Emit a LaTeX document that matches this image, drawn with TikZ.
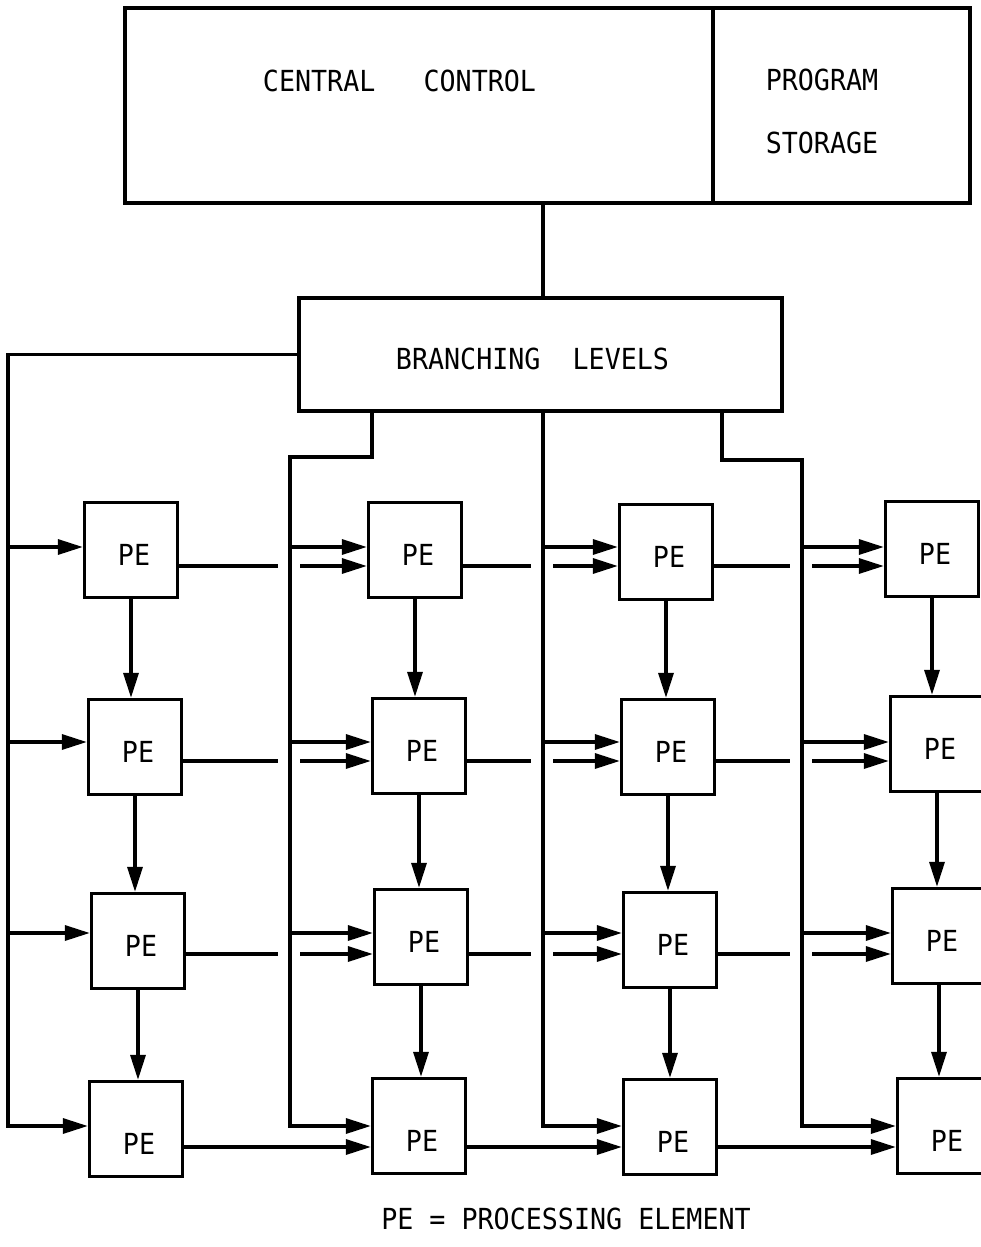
\documentclass[tikz,border=0pt]{standalone}
\usepackage{fontspec}
\newfontfamily\dmono[FakeStretch=0.92]{DejaVu Sans Mono}
\usetikzlibrary{arrows.meta,calc}
\begin{document}
\begin{tikzpicture}[x=1pt,y=-1pt,
  line width=3.3pt,
  box/.style={draw, rectangle, line width=3.3pt, inner sep=0pt},
  pebox/.style={box, minimum width=93pt, minimum height=95pt},
  lbl/.style={font=\dmono\fontsize{29}{34}\selectfont, inner sep=0pt, anchor=base},
  arr/.style={-{Triangle[length=25pt,width=15pt]}},
]
\useasboundingbox (0,0) rectangle (981,1247);

% top boxes
\node[box, minimum width=588pt, minimum height=195pt] (cc) at (419,105.5) {};
\node[box, minimum width=257pt, minimum height=195pt] (ps) at (841.5,105.5) {};
\node[lbl] (cct) at (399.5,92) {CENTRAL\ \ \ CONTROL};
\node[lbl] (pst1) at (822,90) {PROGRAM};
\node[lbl] (pst2) at (822,153) {STORAGE};

% branching levels
\node[box, minimum width=483pt, minimum height=113pt] (bl) at (540.5,354.5) {};
\node[lbl] (blt) at (532.5,369) {BRANCHING\ \ LEVELS};
\draw (cc.south -| 543,0) -- (bl.north -| 543,0);

% processing elements
\foreach \rw/\cl/\x/\y in {1/1/131/550, 1/2/415/550, 1/3/666/552, 1/4/932/549,
  2/1/135/747, 2/2/419/746, 2/3/668/747, 2/4/937/744,
  3/1/138/941, 3/2/421/937, 3/3/670/940, 3/4/939/936,
  4/1/136/1129, 4/2/419/1126, 4/3/670/1127, 4/4/944/1126}
{ \node[pebox] (pe\rw\cl) at (\x,\y) {}; }

\foreach \rw/\dy in {1/15, 2/15, 3/15, 4/25}
  \foreach \cl in {1,2,3,4}
  { \node[lbl] (pet\rw\cl) at ([xshift=3pt,yshift=-\dy pt]pe\rw\cl.center) {PE}; }

% buses from branching levels
\coordinate (busA) at (8,1126);
\coordinate (bB1) at (290,457);
\coordinate (bB2) at (290,1126);
\coordinate (bC2) at (543,1126);
\coordinate (bD1) at (802,460);
\coordinate (bD2) at (802,1126);
\draw[arr] (bl.west) -| (busA) -- (busA -| pe41.west);
\draw[arr] (bl.south -| 372,0) |- (bB1) -- (bB2) -- (bB2 -| pe42.west);
\draw[arr] (bl.south -| bC2) -- (bC2) -- (bC2 -| pe43.west);
\draw[arr] (bl.south -| 722,0) |- (bD1) -- (bD2) -- (bD2 -| pe44.west);

% row taps and row links (rows 1-3)
\foreach \rw/\uy/\ly in {1/547/566, 2/742/761, 3/933/954} {
  \draw[arr] (8,\uy) -- (pe\rw1.west |- 0,\uy);
  \foreach \cl/\pv/\bx in {2/1/290, 3/2/543, 4/3/802} {
    \draw[arr] (\bx,\uy) -- (pe\rw\cl.west |- 0,\uy);
    \draw (pe\rw\pv.east |- 0,\ly) -- (\bx-12,\ly);
    \draw[arr] (\bx+10,\ly) -- (pe\rw\cl.west |- 0,\ly);
  }
}
% bottom row links
\foreach \pv/\cl in {1/2, 2/3, 3/4}
  \draw[arr] (pe4\pv.east |- 0,1147) -- (pe4\cl.west |- 0,1147);

% vertical links
\foreach \cl in {1,2,3,4}
  \foreach \rw/\nx in {1/2, 2/3, 3/4}
    \draw[arr] (pe\rw\cl.south) -- (pe\rw\cl.south |- pe\nx\cl.north);

% legend
\node[lbl] (foot) at (566,1229) {PE = PROCESSING ELEMENT};
\end{tikzpicture}
\end{document}
